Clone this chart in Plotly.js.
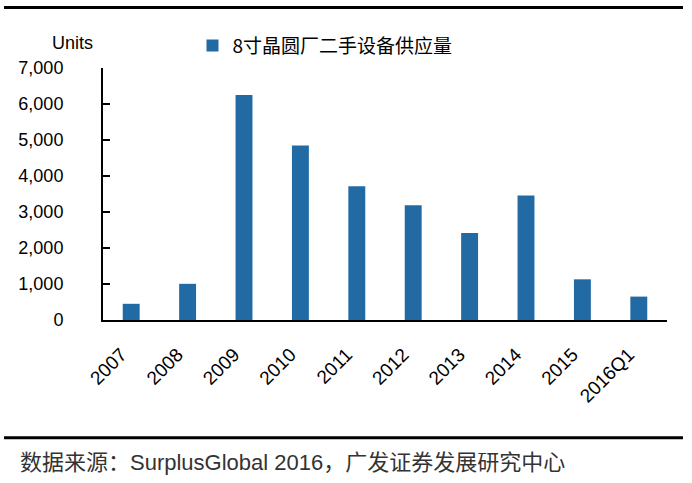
<!DOCTYPE html>
<html>
<head>
<meta charset="utf-8">
<script src="https://cdn.plot.ly/plotly-3.0.1.min.js"></script>
<style>
  body { margin: 0; padding: 0; background: #fff; }
  #chart { width: 692px; height: 483px; }
</style>
</head>
<body>
<div id="chart"></div>
<script>
// categories and values
var years = ['2007', '2008', '2009', '2010', '2011', '2012', '2013', '2014', '2015', '2016Q1'];
var supply = [450, 1005, 6250, 4850, 3715, 3190, 2420, 3455, 1130, 650];
var yTicks = [0, 1000, 2000, 3000, 4000, 5000, 6000, 7000];
var yTickText = ['0', '1,000', '2,000', '3,000', '4,000', '5,000', '6,000', '7,000'];
var seriesName = '8寸晶圆厂二手设备供应量';
var sourceText = '数据来源：SurplusGlobal 2016，广发证券发展研究中心';

// plot area in pixels
var W = 692, H = 483;
var L = 103, R = 667, T = 67.5, B = 320;

// helper to turn page pixels into paper coords
function px(x) { return (x - L) / (R - L); }
function py(y) { return (B - y) / (B - T); }

var cjk = '"Noto Sans CJK SC", "Liberation Sans", sans-serif';
var latin = '"Liberation Sans", Arial, "Noto Sans CJK SC", sans-serif';

var data = [{
    type: 'bar',
    x: years,
    y: supply,
    name: seriesName,
    marker: { color: '#226AA4' },
    width: 0.3
}];

var layout = {
    width: W,
    height: H,
    margin: { l: L, r: W - R, t: T, b: H - B, pad: 0 },
    paper_bgcolor: '#fff',
    plot_bgcolor: '#fff',
    font: { family: latin, color: '#000', size: 17 },
    showlegend: true,
    legend: {
        orientation: 'h',
        x: px(192.5), y: py(45),
        xanchor: 'left', yanchor: 'middle',
        font: { family: cjk, size: 19, color: '#000' },
        itemwidth: 30,
        bgcolor: 'rgba(0,0,0,0)'
    },
    xaxis: {
        type: 'category',
        showline: true, linecolor: '#000', linewidth: 2,
        ticks: '', tickangle: -45,
        tickfont: { family: latin, size: 19, color: '#000' },
        ticklabelstandoff: 14,
        ticklabelshift: -10,
        showgrid: false, zeroline: false,
        fixedrange: true
    },
    yaxis: {
        range: [0, 7000],
        tickvals: yTicks, ticktext: yTickText,
        showline: true, linecolor: '#000', linewidth: 2,
        ticks: 'inside', ticklen: 7, tickwidth: 1.5, tickcolor: '#000',
        tickfont: { family: latin, size: 18, color: '#000' },
        ticklabelstandoff: 34,
        showgrid: false, zeroline: false,
        fixedrange: true
    },
    shapes: [
        { type: 'line', xref: 'paper', yref: 'paper', x0: px(4), x1: px(683), y0: py(7), y1: py(7),
          line: { color: '#000', width: 3 } },
        { type: 'line', xref: 'paper', yref: 'paper', x0: px(4), x1: px(683), y0: py(438), y1: py(438),
          line: { color: '#000', width: 3 } }
    ],
    annotations: [
        { xref: 'paper', yref: 'paper', x: px(72), y: py(42), text: 'Units', showarrow: false,
          xanchor: 'center', yanchor: 'middle',
          font: { family: latin, size: 18, color: '#000' } },
        { xref: 'paper', yref: 'paper', x: px(18), y: py(463), text: sourceText, showarrow: false,
          xanchor: 'left', yanchor: 'middle',
          font: { family: latin, size: 22, color: '#333' } }
    ]
};

Plotly.newPlot('chart', data, layout, { displayModeBar: false, staticPlot: true });
</script>
</body>
</html>
